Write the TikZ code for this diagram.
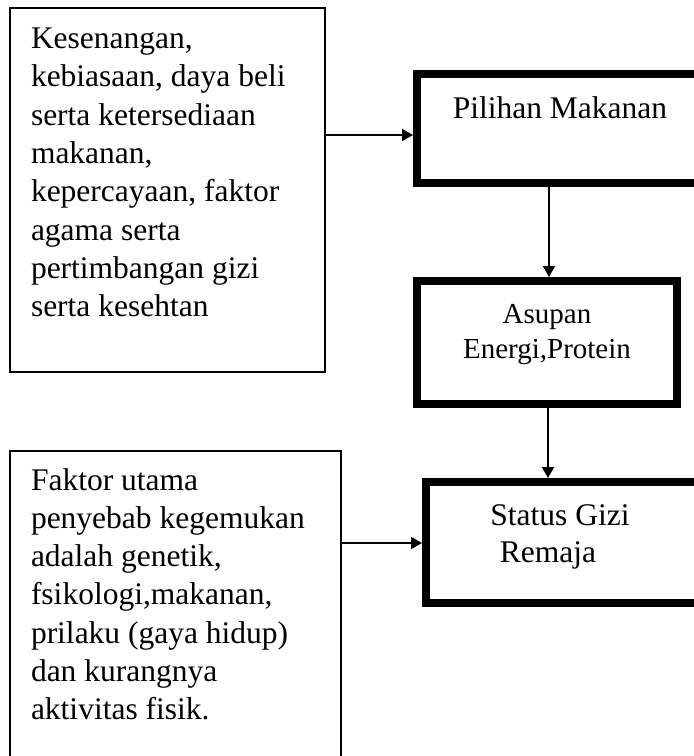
\documentclass[tikz,border=0pt]{standalone}
\usepackage{fontspec}
\setmainfont{Liberation Serif}
\usetikzlibrary{arrows.meta}
\newcommand{\txtA}{\fontsize{31.5}{38.3}\selectfont}
\newcommand{\txtB}{\fontsize{29}{35}\selectfont}
\newcommand{\txtC}{\fontsize{31.5}{37}\selectfont}
\tikzset{
  thinbox/.style={draw=black, line width=1.6pt, fill=white, inner sep=0pt, rectangle},
  thickbox/.style={draw=black, line width=8pt, fill=white, inner sep=0pt, rectangle},
  arr/.style={draw=black, line width=1.6pt, -{Triangle[length=11pt,width=12pt]}},
  txt/.style={inner sep=0pt, outer sep=0pt}
}
\begin{document}
\begin{tikzpicture}[x=1pt,y=-1pt]
\useasboundingbox (0,0) rectangle (694,756);
\clip (0,0) rectangle (694,756);
\fill[white] (0,0) rectangle (694,756);
% boxes
\node[thinbox, minimum width=315pt, minimum height=364pt] (b1) at (167.5,190) {};
\node[thinbox, minimum width=331pt, minimum height=311pt] (b4) at (175.5,606.5) {};
\node[thickbox, minimum width=288pt, minimum height=108.5pt] (pil) at (561,128.25) {};
\node[thickbox, minimum width=259.5pt, minimum height=123pt] (asu) at (546.75,342.5) {};
\node[thickbox, minimum width=274pt, minimum height=120.5pt] (sta) at (563,542.25) {};
% texts
\node[txt, anchor=base west] (t1) at (31,48.5) {\txtA\renewcommand{\arraystretch}{1}\begin{tabular}[t]{@{}l@{}}Kesenangan,\\kebiasaan, daya beli\\serta ketersediaan\\makanan,\\kepercayaan, faktor\\agama serta\\pertimbangan gizi\\serta kesehtan\end{tabular}};
\node[txt, anchor=base west] (t4) at (31,490) {\txtA\renewcommand{\arraystretch}{1}\begin{tabular}[t]{@{}l@{}}Faktor utama\\penyebab kegemukan\\adalah genetik,\\fsikologi,makanan,\\prilaku (gaya hidup)\\dan kurangnya\\aktivitas fisik.\end{tabular}};
\node[txt, anchor=base] (tp) at (560,118) {\txtC Pilihan Makanan};
\node[txt, anchor=base] (ta) at (547,323) {\txtB\renewcommand{\arraystretch}{1}\begin{tabular}[t]{@{}c@{}}Asupan\\Energi,Protein\end{tabular}};
\node[txt, anchor=base] (ts1) at (560,525) {\txtC Status Gizi};
\node[txt, anchor=base] (ts2) at (548,562) {\txtC Remaja};
% connector guides
\coordinate (h1) at (0,135);
\coordinate (h2) at (0,543);
\coordinate (v1) at (549,0);
\coordinate (v2) at (548,0);
% connectors
\draw[arr] (b1.east |- h1) -- (pil.west |- h1);
\draw[arr] (pil.south -| v1) -- (asu.north -| v1);
\draw[arr] (asu.south -| v2) -- (sta.north -| v2);
\draw[arr] (b4.east |- h2) -- (sta.west |- h2);
\end{tikzpicture}
\end{document}
